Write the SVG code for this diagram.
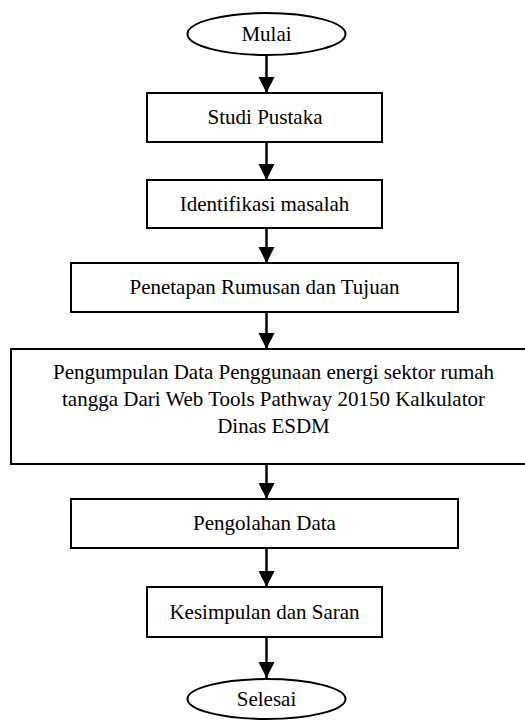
<svg xmlns="http://www.w3.org/2000/svg" width="525" height="720" viewBox="0 0 525 720">
<defs>
<marker id="ah" markerUnits="userSpaceOnUse" markerWidth="16" markerHeight="18" refX="16" refY="8" orient="auto">
<path d="M0,0 L16,8 L0,16 Z" fill="#000"/>
</marker>
<style>
.b{fill:#fff;stroke:#000;stroke-width:2}
.t{font-size:21px;fill:#000;text-anchor:middle}
.c{stroke:#000;stroke-width:2.5;fill:none}
</style>
</defs>
<rect width="525" height="720" fill="#fff"/>
<g id="connectors">
<line class="c" x1="266.5" y1="55" x2="266.5" y2="93" marker-end="url(#ah)"/>
<line class="c" x1="266.5" y1="142" x2="266.5" y2="180" marker-end="url(#ah)"/>
<line class="c" x1="266.5" y1="228" x2="266.5" y2="263" marker-end="url(#ah)"/>
<line class="c" x1="266.5" y1="312" x2="266.5" y2="349" marker-end="url(#ah)"/>
<line class="c" x1="266.5" y1="464" x2="266.5" y2="499" marker-end="url(#ah)"/>
<line class="c" x1="266.5" y1="548" x2="266.5" y2="587" marker-end="url(#ah)"/>
<line class="c" x1="266.5" y1="637" x2="266.5" y2="678" marker-end="url(#ah)"/>
</g>
<g font-family="'Liberation Serif', 'Times New Roman', Tinos, 'DejaVu Serif', serif">
<g id="mulai">
<ellipse class="b" cx="266.5" cy="34" rx="79" ry="21"/>
<text class="t" x="266.5" y="41">Mulai</text>
</g>
<g id="studi">
<rect class="b" x="147" y="93" width="235" height="49"/>
<text class="t" x="265" y="124">Studi Pustaka</text>
</g>
<g id="identifikasi">
<rect class="b" x="147" y="180" width="235" height="48"/>
<text class="t" x="264.5" y="211">Identifikasi masalah</text>
</g>
<g id="penetapan">
<rect class="b" x="71" y="263" width="387" height="49"/>
<text class="t" x="264.5" y="294">Penetapan Rumusan dan Tujuan</text>
</g>
<g id="pengumpulan">
<rect class="b" x="11" y="349" width="525" height="115"/>
<text class="t" x="273.5" y="379">Pengumpulan Data Penggunaan energi sektor rumah</text>
<text class="t" x="273.5" y="406">tangga Dari Web Tools Pathway 20150 Kalkulator</text>
<text class="t" x="273.5" y="433">Dinas ESDM</text>
</g>
<g id="pengolahan">
<rect class="b" x="71" y="499" width="387" height="49"/>
<text class="t" x="264.5" y="530">Pengolahan Data</text>
</g>
<g id="kesimpulan">
<rect class="b" x="147" y="587" width="235" height="50"/>
<text class="t" x="264.5" y="619">Kesimpulan dan Saran</text>
</g>
<g id="selesai">
<ellipse class="b" cx="266.5" cy="699" rx="79" ry="20"/>
<text class="t" x="266.5" y="706">Selesai</text>
</g>
</g>
</svg>
